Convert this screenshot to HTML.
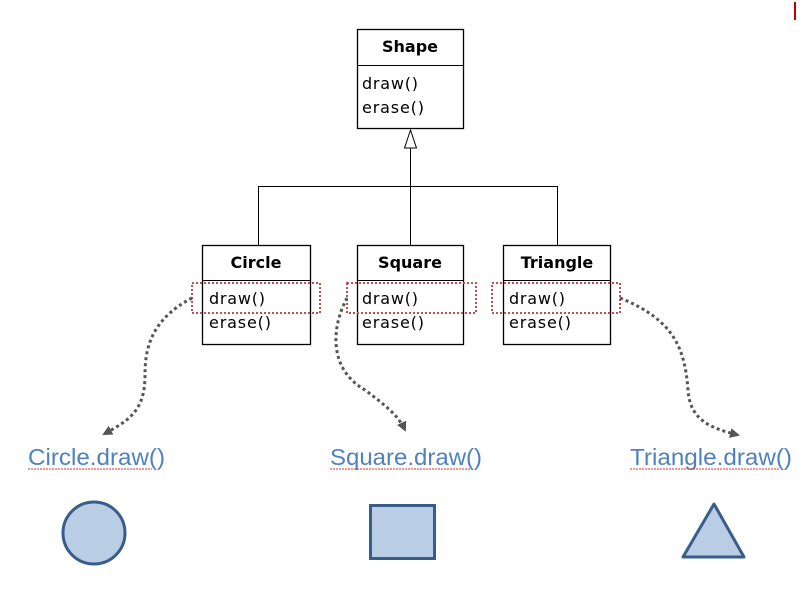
<!DOCTYPE html>
<html><head><meta charset="utf-8"><style>
body{margin:0;background:#fff;}
svg text{font-family:"DejaVu Sans","Liberation Sans",sans-serif;}
.lbl{font-family:"Liberation Sans",sans-serif;font-size:23px;fill:#4f81bd;}
</style></head><body>
<svg width="805" height="605" viewBox="0 0 805 605" xmlns="http://www.w3.org/2000/svg">
<defs>
<marker id="ah" markerWidth="10" markerHeight="10" refX="8" refY="5" orient="auto" markerUnits="userSpaceOnUse">
<path d="M0,0 L10,5 L0,10 z" fill="#555"/></marker>
</defs>
<rect x="357.5" y="29.5" width="106" height="99" fill="#fff" stroke="#000" stroke-width="1.3"/>
<line x1="357" y1="65.5" x2="463" y2="65.5" stroke="#000"/>
<text x="410" y="52" font-size="16" font-weight="bold" text-anchor="middle">Shape</text>
<text x="362" y="89" font-size="16" textLength="56">draw()</text>
<text x="362" y="113" font-size="16" textLength="62">erase()</text>
<line x1="410.5" y1="148" x2="410.5" y2="245" stroke="#000"/>
<polygon points="410.5,130 404.5,148 416.5,148" fill="#fff" stroke="#000"/>
<polyline points="258.5,245 258.5,186.5 557.5,186.5 557.5,245" fill="none" stroke="#000"/>
<g stroke="#000" stroke-width="1.3" fill="#fff">
<rect x="202.5" y="245.5" width="108" height="99"/>
<rect x="357.5" y="245.5" width="106" height="99"/>
<rect x="503.5" y="245.5" width="107" height="99"/>
</g>
<g stroke="#000"><line x1="202" y1="280.5" x2="310" y2="280.5"/><line x1="357" y1="280.5" x2="463" y2="280.5"/><line x1="503" y1="280.5" x2="610" y2="280.5"/></g>
<text x="256" y="268" font-size="16" font-weight="bold" text-anchor="middle">Circle</text>
<text x="410" y="268" font-size="16" font-weight="bold" text-anchor="middle">Square</text>
<text x="557" y="268" font-size="16" font-weight="bold" text-anchor="middle">Triangle</text>
<g font-size="16">
<text x="209" y="304" textLength="56">draw()</text><text x="209" y="328" textLength="62">erase()</text>
<text x="362" y="304" textLength="56">draw()</text><text x="362" y="328" textLength="62">erase()</text>
<text x="509" y="304" textLength="56">draw()</text><text x="509" y="328" textLength="62">erase()</text>
</g>
<g fill="none" stroke="#c0504d" stroke-width="2" stroke-dasharray="2,2">
<rect x="192" y="283" width="128" height="30"/>
<rect x="347" y="283" width="129" height="30"/>
<rect x="492" y="283" width="128" height="30"/>
</g>
<g fill="none" stroke="#555" stroke-width="3" stroke-dasharray="3,3" marker-end="url(#ah)">
<path d="M192,298 C150,320 145,350 145,375 C145,410 130,420 104,434"/>
<path d="M347,298 C330,330 330,370 365,390 C385,405 398,415 405,430"/>
<path d="M620,298 C675,320 685,350 688,390 C690,420 710,428 738,435"/>
</g>
<text class="lbl" x="28" y="465" textLength="137" lengthAdjust="spacingAndGlyphs">Circle.draw()</text>
<text class="lbl" x="330" y="465" textLength="152" lengthAdjust="spacingAndGlyphs">Square.draw()</text>
<text class="lbl" x="630" y="465" textLength="162" lengthAdjust="spacingAndGlyphs">Triangle.draw()</text>
<g stroke="#e03030" stroke-width="1" fill="none" stroke-dasharray="2,1">
<line x1="28" y1="469" x2="152" y2="469"/>
<line x1="330" y1="469" x2="472" y2="469"/>
<line x1="630" y1="469" x2="780" y2="469"/>
</g>
<circle cx="94" cy="533" r="31" fill="#b9cde5" stroke="#385d8a" stroke-width="3"/>
<rect x="370.5" y="505.5" width="64" height="53" fill="#b9cde5" stroke="#385d8a" stroke-width="3"/>
<polygon points="714,504 683,557 744,557" fill="#b9cde5" stroke="#385d8a" stroke-width="3" stroke-linejoin="round"/>
<path d="M795,2 L795,20" stroke="#c00000" stroke-width="2"/>
</svg>
</body></html>
